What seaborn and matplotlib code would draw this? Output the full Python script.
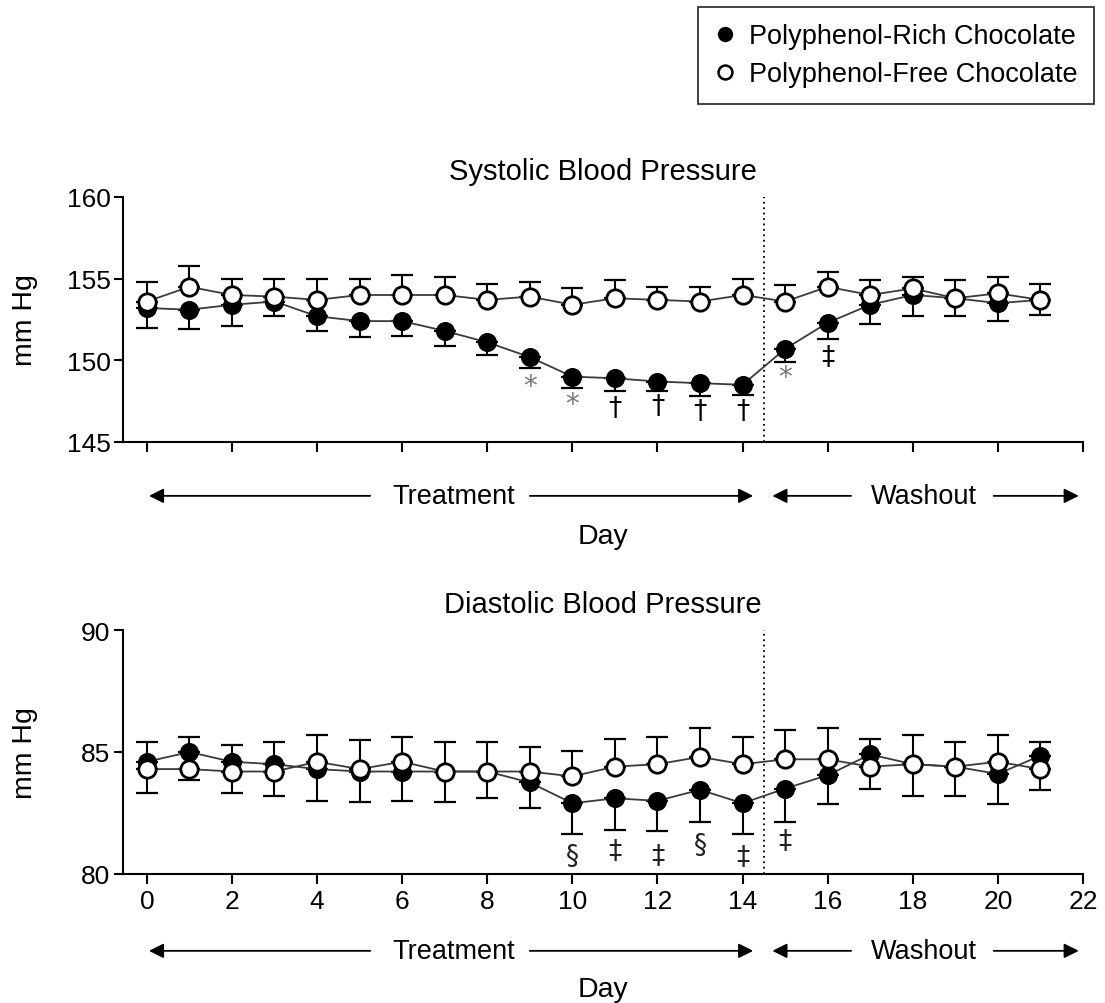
import numpy as np
import pandas as pd
import matplotlib
matplotlib.use("Agg")
import matplotlib.pyplot as plt
from matplotlib.lines import Line2D
import seaborn as sns

# ---------------- data ----------------
days = list(range(22))

sys_rich = [153.2, 153.1, 153.4, 153.6, 152.7, 152.4, 152.4, 151.8, 151.1, 150.2, 149.0,
            148.9, 148.7, 148.6, 148.5, 150.7, 152.3, 153.4, 154.0, 153.8, 153.5, 153.7]
sys_rich_err = [1.2, 1.2, 1.3, 0.9, 0.9, 1.0, 0.9, 0.9, 0.8, 0.7, 0.7,
                0.8, 0.6, 0.8, 0.6, 0.8, 1.0, 1.2, 1.3, 1.1, 1.1, 0.9]
sys_free = [153.6, 154.5, 154.0, 153.9, 153.7, 154.0, 154.0, 154.0, 153.7, 153.9, 153.4,
            153.8, 153.7, 153.6, 154.0, 153.6, 154.5, 154.0, 154.4, 153.8, 154.1, 153.7]
sys_free_err = [1.2, 1.3, 1.0, 1.1, 1.3, 1.0, 1.2, 1.1, 1.0, 0.9, 1.0,
                1.1, 0.8, 0.9, 1.0, 1.0, 0.9, 0.9, 0.7, 1.1, 1.0, 1.0]

dia_rich = [84.6, 85.0, 84.6, 84.5, 84.3, 84.2, 84.2, 84.2, 84.2, 83.75, 82.9,
            83.1, 83.0, 83.45, 82.9, 83.5, 84.05, 84.9, 84.5, 84.4, 84.1, 84.85]
dia_rich_err = [1.3, 1.15, 1.3, 1.3, 1.3, 1.25, 1.2, 1.25, 1.1, 1.05, 1.25,
                1.3, 1.25, 1.3, 1.25, 1.35, 1.2, 1.4, 1.3, 1.2, 1.25, 1.4]
dia_free = [84.3, 84.3, 84.2, 84.2, 84.6, 84.3, 84.6, 84.2, 84.2, 84.2, 84.0,
            84.4, 84.5, 84.8, 84.5, 84.7, 84.7, 84.4, 84.5, 84.4, 84.6, 84.3]
dia_free_err = [1.1, 1.3, 1.1, 1.2, 1.1, 1.2, 1.0, 1.2, 1.2, 1.0, 1.05,
                1.15, 1.1, 1.2, 1.1, 1.2, 1.3, 1.15, 1.2, 1.0, 1.1, 1.1]

sys_marks_day = [9, 10, 11, 12, 13, 14, 15, 16]
sys_marks_txt = ["*", "*", "†", "†", "†", "†", "*", "‡"]
sys_marks_y = [148.45, 147.3, 147.1, 147.2, 146.9, 146.9, 149.0, 150.2]
dia_marks_day = [10, 11, 12, 13, 14, 15]
dia_marks_txt = ["§", "‡", "‡", "§", "‡", "‡"]
dia_marks_y = [80.75, 80.95, 80.75, 81.2, 80.7, 81.35]

legend_labels = ["Polyphenol-Rich Chocolate", "Polyphenol-Free Chocolate"]

# ---------------- style ----------------
sns.set_style("ticks")
plt.rcParams['font.family'] = ['Liberation Sans', 'DejaVu Sans']
plt.rcParams['axes.linewidth'] = 1.5
for k in ['text.color', 'axes.labelcolor', 'xtick.color', 'ytick.color',
          'axes.edgecolor', 'xtick.labelcolor', 'ytick.labelcolor']:
    plt.rcParams[k] = 'black'

fig = plt.figure(figsize=(11.05, 10.04), dpi=100)
ax1 = fig.add_axes([0.1113, 0.5588, 0.8688, 0.2440])
ax2 = fig.add_axes([0.1113, 0.1285, 0.8688, 0.2430])

FS_TICK = 19
FS_TITLE = 21
FS_LAB = 20.5
FS_PHASE = 19.5
MS = 12.5


def panel(ax, rich, rich_err, free, free_err, title, ylim, yticks):
    df = pd.DataFrame({"day": days, "rich": rich, "free": free})
    z = np.zeros(len(days))
    # error bars: rich downward, free upward
    ax.errorbar(days, rich, yerr=[rich_err, z], fmt='none', ecolor='black',
                elinewidth=1.5, capsize=8, capthick=1.6, zorder=2)
    ax.errorbar(days, free, yerr=[z, free_err], fmt='none', ecolor='black',
                elinewidth=1.5, capsize=8, capthick=1.6, zorder=2)
    sns.lineplot(data=df, x="day", y="rich", ax=ax, color='#3a3a3a', lw=1.3,
                 marker='o', markersize=MS, markerfacecolor='black',
                 markeredgecolor='black', markeredgewidth=1.2, zorder=3)
    sns.lineplot(data=df, x="day", y="free", ax=ax, color='#3a3a3a', lw=1.3,
                 marker='o', markersize=MS, markerfacecolor='white',
                 markeredgecolor='black', markeredgewidth=2.0, zorder=4)
    ax.axvline(14.5, color='black', ls=(0, (1, 2)), lw=1.3, zorder=1)
    ax.set_xlim(-0.56, 22)
    ax.set_ylim(*ylim)
    ax.set_yticks(yticks)
    ax.set_xticks(range(0, 23, 2))
    ax.tick_params(axis='y', length=6.5, width=1.5, labelsize=FS_TICK, color='black',
                   labelcolor='black', direction='out', pad=2.5)
    ax.tick_params(axis='x', length=7, width=1.5, labelsize=FS_TICK, color='black',
                   labelcolor='black', direction='out', pad=4)
    for s in ['top', 'right']:
        ax.spines[s].set_visible(False)
    for s in ['left', 'bottom']:
        ax.spines[s].set_color('black')
    ax.set_title(title, fontsize=FS_TITLE, pad=13, color='black')
    ax.set_ylabel("mm Hg", fontsize=FS_LAB, color='black')
    ax.yaxis.set_label_coords(-0.089, 0.5)


panel(ax1, sys_rich, sys_rich_err, sys_free, sys_free_err,
      "Systolic Blood Pressure", (145, 160), [145, 150, 155, 160])
panel(ax2, dia_rich, dia_rich_err, dia_free, dia_free_err,
      "Diastolic Blood Pressure", (80, 90), [80, 85, 90])

ax1.set_xlabel("")
ax1.set_xticklabels([])
ax2.set_xlabel("")

for d, t, y in zip(sys_marks_day, sys_marks_txt, sys_marks_y):
    col = '#777777' if t == '*' else 'black'
    ax1.text(d, y, t, ha='center', va='center', fontsize=20 if t == '*' else 19,
             color=col, family=['DejaVu Sans'])
for d, t, y in zip(dia_marks_day, dia_marks_txt, dia_marks_y):
    ax2.text(d, y, t, ha='center', va='center', fontsize=19,
             color='#222222', family=['DejaVu Sans'])


def phase_arrows(ax, y_arrow, y_day):
    tr = ax.get_xaxis_transform()
    ap = dict(arrowstyle='-|>', color='black', lw=1.3, mutation_scale=22,
              shrinkA=0, shrinkB=0)
    # Treatment
    ax.annotate('', xy=(0.05, y_arrow), xytext=(5.25, y_arrow), xycoords=tr,
                textcoords=tr, arrowprops=ap, annotation_clip=False)
    ax.annotate('', xy=(14.25, y_arrow), xytext=(9.0, y_arrow), xycoords=tr,
                textcoords=tr, arrowprops=ap, annotation_clip=False)
    ax.text(7.2, y_arrow, "Treatment", transform=tr, ha='center', va='center',
            fontsize=FS_PHASE)
    # Washout
    ax.annotate('', xy=(14.7, y_arrow), xytext=(16.55, y_arrow), xycoords=tr,
                textcoords=tr, arrowprops=ap, annotation_clip=False)
    ax.annotate('', xy=(21.9, y_arrow), xytext=(19.9, y_arrow), xycoords=tr,
                textcoords=tr, arrowprops=ap, annotation_clip=False)
    ax.text(18.25, y_arrow, "Washout", transform=tr, ha='center', va='center',
            fontsize=FS_PHASE)
    ax.text(0.5, y_day, "Day", transform=ax.transAxes, ha='center', va='center',
            fontsize=FS_LAB)


phase_arrows(ax1, -0.22, -0.385)
phase_arrows(ax2, -0.315, -0.47)

# legend
handles = [Line2D([], [], ls='none', marker='o', markersize=10, markerfacecolor='black',
                  markeredgecolor='black'),
           Line2D([], [], ls='none', marker='o', markersize=10, markerfacecolor='white',
                  markeredgecolor='black', markeredgewidth=1.8)]
leg = fig.legend(handles, legend_labels, loc='upper right',
                 bbox_to_anchor=(0.990, 0.992), fontsize=19.5, frameon=True,
                 fancybox=False, handlelength=0.8, handletextpad=0.5,
                 borderpad=0.6, labelspacing=0.45, borderaxespad=0)
leg.get_frame().set_edgecolor('black')
leg.get_frame().set_linewidth(1.3)
for t in leg.get_texts():
    t.set_color('black')

fig.savefig("out.png", dpi=100)
